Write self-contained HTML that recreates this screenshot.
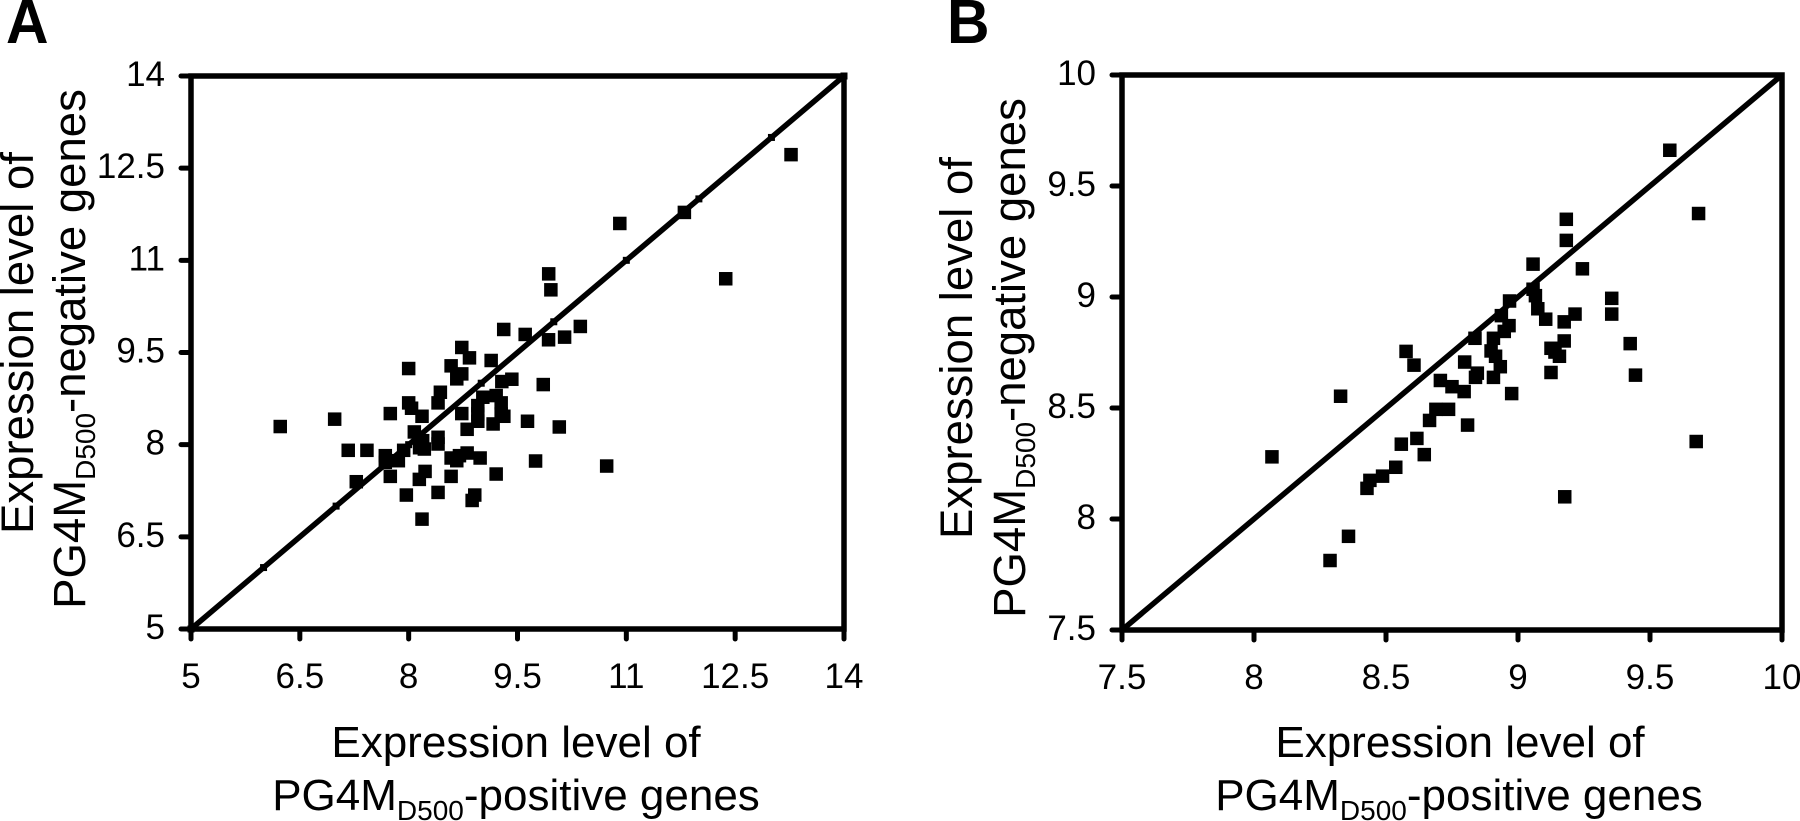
<!DOCTYPE html>
<html lang="en">
<head>
<meta charset="utf-8">
<title>PG4M expression level scatter plots</title>
<style>
html,body{margin:0;padding:0;background:#fff;width:1800px;height:821px;overflow:hidden}
svg{display:block}
text{font-family:"Liberation Sans",sans-serif;fill:#000}
.tick{font-size:35px}
.title{font-size:44px}
.title-lg{font-size:45.5px}
.sub{font-size:28px}
.letter{font-size:62px;font-weight:bold}
</style>
</head>
<body>
<svg id="figure" xmlns="http://www.w3.org/2000/svg" width="1800" height="821" viewBox="0 0 1800 821">
  <rect width="1800" height="821" fill="#fff"/>
  <text class="letter" transform="translate(6 43) scale(.95 1)">A</text>
  <text class="letter" transform="translate(947 43) scale(.95 1)">B</text>

  <text class="title" x="516" y="757" text-anchor="middle">Expression level of</text>
  <text class="title" x="516" y="810" text-anchor="middle">PG4M<tspan class="sub" dy="10">D500</tspan><tspan dy="-10">-positive genes</tspan></text>
  <text class="title-lg" transform="translate(33 343) rotate(-90)" text-anchor="middle">Expression level of</text>
  <text class="title-lg" transform="translate(85 349) rotate(-90)" text-anchor="middle">PG4M<tspan class="sub" dy="10">D500</tspan><tspan dy="-10">-negative genes</tspan></text>

  <text class="title" x="1460" y="757" text-anchor="middle">Expression level of</text>
  <text class="title" x="1459" y="810" text-anchor="middle">PG4M<tspan class="sub" dy="10">D500</tspan><tspan dy="-10">-positive genes</tspan></text>
  <text class="title-lg" transform="translate(972 348) rotate(-90)" text-anchor="middle">Expression level of</text>
  <text class="title-lg" transform="translate(1025 358) rotate(-90)" text-anchor="middle">PG4M<tspan class="sub" dy="10">D500</tspan><tspan dy="-10">-negative genes</tspan></text>
</svg>
<script>
var ticksA = [5, 6.5, 8, 9.5, 11, 12.5, 14];
var ticksB = [7.5, 8, 8.5, 9, 9.5, 10];
var tickLabelsA = ["5", "6.5", "8", "9.5", "11", "12.5", "14"];
var tickLabelsB = ["7.5", "8", "8.5", "9", "9.5", "10"];
var diagonalA = [5, 6, 7, 8, 9, 10, 11, 12, 13, 14];
var diagonalB = [7.5, 10];

var pointsAx = [9.31,9.606,9.928,10.149,10.366,8.732,8.838,9.137,8.585,8.732,8.663,8.0,8.437,8.405,8.0,8.04,8.184,7.747,8.732,9.422,9.284,9.855,9.638,10.076,9.749,10.729,9.206,8.985,8.806,8.953,8.953,9.022,9.206,9.275,9.275,9.164,9.312,8.078,8.193,8.405,8.405,8.216,7.167,7.425,7.678,7.678,7.858,7.931,8.585,8.663,8.70,8.806,8.226,8.147,7.747,8.585,8.405,7.968,8.911,8.875,8.184,7.278,6.23,6.98,10.91,11.8,13.27,12.37,9.93,9.96,8.953,8.15];
var pointsAy = [9.875,9.794,9.707,9.750,9.924,9.582,9.413,9.370,9.283,9.152,9.071,9.239,8.853,8.680,8.68,8.593,8.462,8.506,8.506,9.065,9.027,8.978,8.381,8.288,7.734,7.652,7.522,7.783,8.250,8.381,8.636,8.772,8.799,8.680,8.500,8.337,8.462,8.207,8.065,8.120,8.011,7.929,7.908,7.908,7.821,7.712,7.739,7.908,7.783,7.739,7.821,7.864,7.565,7.435,7.484,7.484,7.223,7.18,7.18,7.092,6.788,7.397,8.295,8.415,11.6,11.78,12.72,10.70,10.78,10.52,8.5,7.95];

var pointsBx = [8.068,8.328,8.288,8.358,8.576,8.606,8.428,8.439,8.487,8.537,8.558,8.617,8.645,8.665,8.689,8.737,8.706,8.75,8.796,8.798,8.839,8.846,8.809,8.837,8.907,8.933,8.907,8.898,8.915,8.948,8.966,8.937,8.968,8.976,9.057,9.057,9.066,9.075,9.105,9.175,9.216,9.175,9.125,9.14,9.157,9.125,9.183,9.183,9.244,9.355,9.355,9.425,9.445,9.575,9.684,9.675,9.177];
var pointsBy = [8.28,8.553,7.813,7.922,8.755,8.693,8.138,8.174,8.193,8.233,8.337,8.363,8.29,8.444,8.494,8.494,8.624,8.596,8.574,8.707,8.638,8.657,8.423,8.814,8.638,8.686,8.814,8.757,8.733,8.845,8.871,8.916,8.982,8.565,9.148,9.035,9.006,8.947,8.9,8.888,8.923,8.802,8.769,8.752,8.733,8.66,9.35,9.255,9.127,8.994,8.923,8.79,8.648,9.661,9.376,8.349,8.1];

var NS = "http://www.w3.org/2000/svg";
var figure = document.getElementById("figure");

function scaleLinear(d0, d1, r0, r1) {
  return function (v) { return r0 + (v - d0) / (d1 - d0) * (r1 - r0); };
}

function drawPanel(prefix, box, ticks, labels, diagonal, xs, ys) {
  var d0 = ticks[0];
  var d1 = ticks[ticks.length - 1];
  var sx = scaleLinear(d0, d1, box.left, box.right);
  var sy = scaleLinear(d0, d1, box.bottom, box.top);
  var g = document.createElementNS(NS, "g");
  
  
  figure.appendChild(g);

  var frame = document.createElementNS(NS, "rect");
  
  
  frame.setAttribute("x", box.left);
  frame.setAttribute("y", box.top);
  frame.setAttribute("width", box.right - box.left);
  frame.setAttribute("height", box.bottom - box.top);
  frame.setAttribute("fill", "none");
  frame.setAttribute("stroke", "#000");
  frame.setAttribute("stroke-width", "5.5");
  g.appendChild(frame);

  ticks.forEach(function (t, i) {
    var xt = document.createElementNS(NS, "line");
    
    
    xt.setAttribute("x1", sx(t));
    xt.setAttribute("x2", sx(t));
    xt.setAttribute("y1", box.bottom);
    xt.setAttribute("y2", box.bottom + 10);
    xt.setAttribute("stroke", "#000");
    xt.setAttribute("stroke-width", "5");
    xt.setAttribute("stroke-linecap", "round");
    g.appendChild(xt);

    var yt = document.createElementNS(NS, "line");
    
    
    yt.setAttribute("x1", box.left - 10);
    yt.setAttribute("x2", box.left);
    yt.setAttribute("y1", sy(t));
    yt.setAttribute("y2", sy(t));
    yt.setAttribute("stroke", "#000");
    yt.setAttribute("stroke-width", "5");
    yt.setAttribute("stroke-linecap", "round");
    g.appendChild(yt);

    var xl = document.createElementNS(NS, "text");
    
    
    xl.setAttribute("class", "tick");
    xl.setAttribute("x", sx(t));
    xl.setAttribute("y", box.bottom + 59);
    xl.setAttribute("text-anchor", "middle");
    xl.textContent = labels[i];
    g.appendChild(xl);

    var yl = document.createElementNS(NS, "text");
    
    
    yl.setAttribute("class", "tick");
    yl.setAttribute("x", box.left - 26);
    yl.setAttribute("y", sy(t) + 10);
    yl.setAttribute("text-anchor", "end");
    yl.textContent = labels[i];
    g.appendChild(yl);
  });

  var line = document.createElementNS(NS, "polyline");
  
  
  line.setAttribute("points", diagonal.map(function (v) { return sx(v) + "," + sy(v); }).join(" "));
  line.setAttribute("fill", "none");
  line.setAttribute("stroke", "#000");
  line.setAttribute("stroke-width", "5.5");
  g.appendChild(line);

  if (diagonal.length > 2) {
    diagonal.forEach(function (v) {
      var m = document.createElementNS(NS, "rect");
      
      
      m.setAttribute("x", sx(v) - 3.5);
      m.setAttribute("y", sy(v) - 3.5);
      m.setAttribute("width", "7");
      m.setAttribute("height", "7");
      m.setAttribute("fill", "#000");
      g.appendChild(m);
    });
  }

  xs.forEach(function (x, i) {
    var p = document.createElementNS(NS, "rect");
    
    
    p.setAttribute("x", sx(x) - 6.75);
    p.setAttribute("y", sy(ys[i]) - 6.75);
    p.setAttribute("width", "13.5");
    p.setAttribute("height", "13.5");
    p.setAttribute("fill", "#000");
    g.appendChild(p);
  });
}

drawPanel("panel-a", {left: 191, right: 844, top: 76, bottom: 629}, ticksA, tickLabelsA, diagonalA, pointsAx, pointsAy);
drawPanel("panel-b", {left: 1122, right: 1782, top: 75, bottom: 630}, ticksB, tickLabelsB, diagonalB, pointsBx, pointsBy);
</script>
</body>
</html>
